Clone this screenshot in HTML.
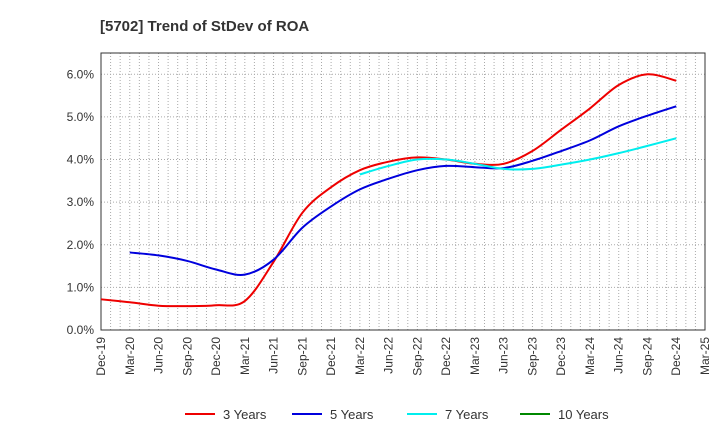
<!DOCTYPE html>
<html><head><meta charset="utf-8"><style>
body{margin:0;background:#fff;font-family:"Liberation Sans",sans-serif}
svg text{font-family:"Liberation Sans",sans-serif}
</style></head><body>
<svg id="c" width="720" height="440">
<text x="100" y="31" font-size="15" font-weight="bold" fill="#333">[5702]  Trend of StDev of ROA</text>
<g id="grid"></g>
<g id="axes"></g>
<g id="series"></g>
<g id="legend"></g>
</svg>
<script>
const xLabels=["Dec-19","Mar-20","Jun-20","Sep-20","Dec-20","Mar-21","Jun-21","Sep-21","Dec-21","Mar-22","Jun-22","Sep-22","Dec-22","Mar-23","Jun-23","Sep-23","Dec-23","Mar-24","Jun-24","Sep-24","Dec-24","Mar-25"];
const yTicks=[0,1,2,3,4,5,6];
const s3=[0.72,0.65,0.57,0.56,0.58,0.68,1.6,2.75,3.35,3.75,3.95,4.05,4.0,3.9,3.9,4.2,4.7,5.2,5.75,6.0,5.85];
const s5=[null,1.82,1.75,1.62,1.42,1.3,1.65,2.4,2.9,3.3,3.55,3.75,3.85,3.82,3.8,3.97,4.2,4.45,4.78,5.03,5.25];
const s7=[null,null,null,null,null,null,null,null,null,3.65,3.85,4.0,4.0,3.9,3.78,3.78,3.88,4.0,4.15,4.32,4.5];
const s10=[];
const names=["3 Years","5 Years","7 Years","10 Years"];
const colors=["#e00","#00d","#0ee","#080"];
const L=101,R=705,T=53,B=330,yMax=6.5;
const xs=i=>L+i*(R-L)/(xLabels.length-1);
const ys=v=>B-v/yMax*(B-T);
const NS="http://www.w3.org/2000/svg";
function mk(p,t,a){const e=document.createElementNS(NS,t);for(const k in a)e.setAttribute(k,a[k]);p.appendChild(e);return e;}
const g=document.getElementById('grid'),ax=document.getElementById('axes'),se=document.getElementById('series'),lg=document.getElementById('legend');
for(let m=1;m<(xLabels.length-1)*3;m++){const x=L+m*(R-L)/((xLabels.length-1)*3);
const l=mk(g,'line',{x1:x,x2:x,y1:T,y2:B,stroke:'#aaa','stroke-dasharray':'1,2','stroke-width':1});

}
yTicks.forEach(v=>{const y=ys(v);
if(v>0){const l=mk(g,'line',{x1:L,x2:R,y1:y,y2:y,stroke:'#aaa','stroke-dasharray':'1,2'});

}
const t=mk(ax,'text',{x:L-7,y:y+4,'text-anchor':'end','font-size':12,fill:'#333'});t.textContent=v.toFixed(1)+'%';

});
xLabels.forEach((s,i)=>{const x=xs(i);
const t=mk(ax,'text',{transform:`translate(${x+4},${B+7}) rotate(-90)`,'text-anchor':'end','font-size':12,fill:'#333'});t.textContent=s;

});
const fr=mk(ax,'rect',{x:L,y:T,width:R-L,height:B-T,fill:'none',stroke:'#333'});


function path(arr){const p=[];arr.forEach((v,i)=>{if(v!=null)p.push([xs(i),ys(v)]);});if(p.length<2)return'';
let d=`M${p[0][0]},${p[0][1]}`;
for(let i=0;i<p.length-1;i++){const p0=p[i-1]||p[i],p1=p[i],p2=p[i+1],p3=p[i+2]||p2;
d+=`C${p1[0]+(p2[0]-p0[0])/6},${p1[1]+(p2[1]-p0[1])/6} ${p2[0]-(p3[0]-p1[0])/6},${p2[1]-(p3[1]-p1[1])/6} ${p2[0]},${p2[1]}`;}return d;}
[s3,s5,s7,s10].forEach((arr,k)=>{const d=path(arr);if(!d)return;
const e=mk(se,'path',{d:d,fill:'none',stroke:colors[k],'stroke-width':2});

});
const lx=[185,292,407,520];
names.forEach((n,k)=>{
const l=mk(lg,'line',{x1:lx[k],x2:lx[k]+30,y1:414,y2:414,stroke:colors[k],'stroke-width':2});


const t=mk(lg,'text',{x:lx[k]+38,y:419,'font-size':13,fill:'#333'});t.textContent=n;

});
</script>
</body></html>
